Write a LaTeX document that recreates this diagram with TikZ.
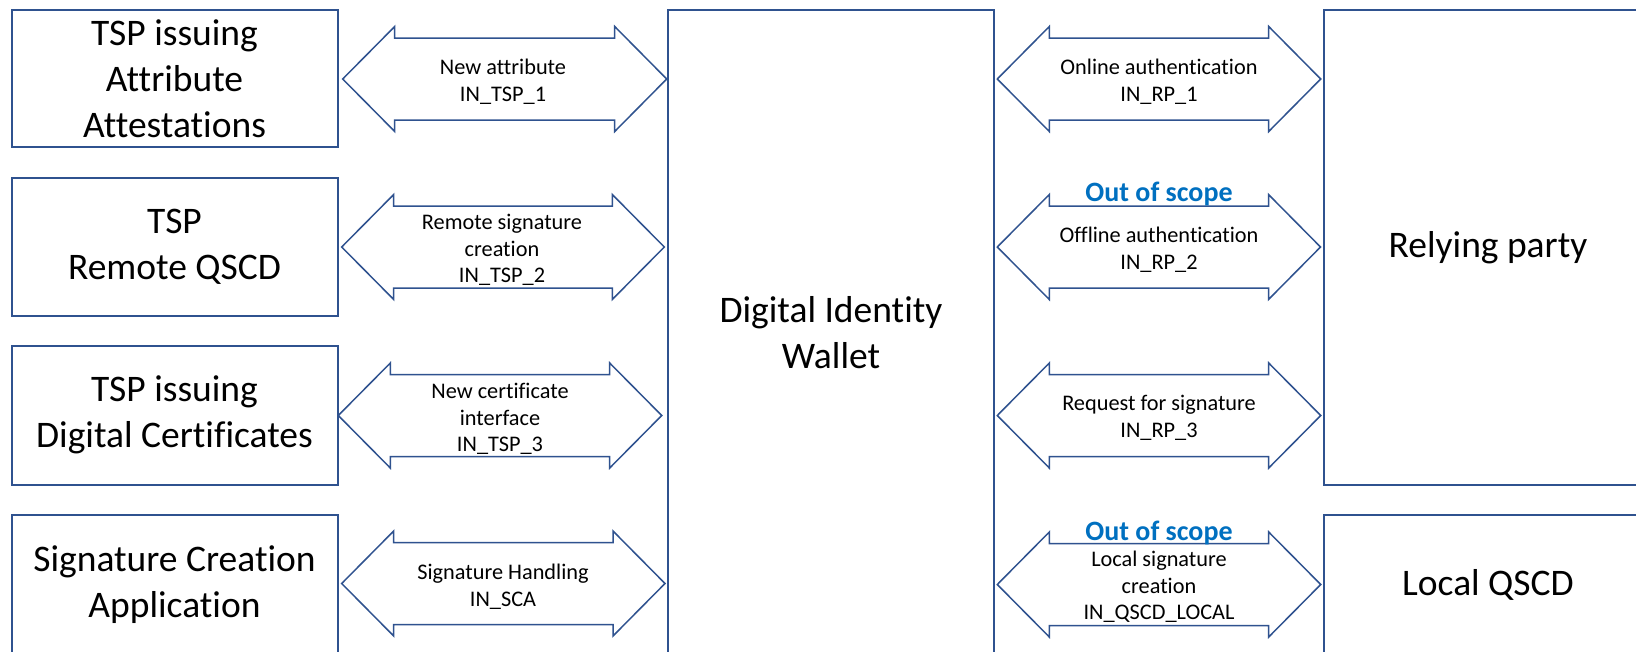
\documentclass[tikz,border=0pt]{standalone}
\usepackage{fontspec}
\setmainfont{Carlito}[Ligatures=NoCommon]
\definecolor{edge}{RGB}{47,82,143}
\definecolor{oos}{RGB}{0,112,192}
\tikzset{
  box/.style={draw=edge, line width=2pt, inner sep=0pt, align=center,
    font=\fontsize{37.5}{46}\selectfont},
  lbl/.style={align=center, inner sep=0pt, font=\fontsize{22.3}{26.6}\selectfont},
  oostxt/.style={text=oos, inner sep=0pt, font=\fontsize{28}{32}\selectfont\bfseries},
  arr/.style={draw=edge, line width=1.5pt, fill=white, line join=miter},
}
% double block arrow: #1 left tip x, #2 right tip x, #3 centre y
\newcommand\dblarr[3]{%
  \draw[arr] (#1,#3) -- (#1+52,#3-52.5) -- (#1+52,#3-41) -- (#2-52,#3-41)
    -- (#2-52,#3-52.5) -- (#2,#3) -- (#2-52,#3+52.5) -- (#2-52,#3+41)
    -- (#1+52,#3+41) -- (#1+52,#3+52.5) -- cycle;}
\begin{document}
\begin{tikzpicture}[x=1pt,y=-1pt]
\useasboundingbox (0,0) rectangle (1636,651);
\clip (0,0) rectangle (1636,651);
\fill[white] (0,0) rectangle (1636,651);

% boxes
\node[box, minimum width=326, minimum height=137] (b1) at (174.5,78.5)
  {TSP issuing\\Attribute\\Attestations};
\node[box, minimum width=326, minimum height=138] (b2) at (174.5,247)
  {TSP\\Remote QSCD};
\node[box, minimum width=326, minimum height=138.5] (b3) at (174.5,415.25)
  {TSP issuing\\Digital Certificates};
\node[box, minimum width=326, minimum height=140] (b4) at (174.5,585)
  {Signature Creation\\Application};
\node[box, minimum width=326, minimum height=645] (w) at (831,332.5)
  {Digital Identity\\Wallet};
\node[box, minimum width=328, minimum height=474.5] (rp) at (1488,247.25)
  {Relying party};
\node[box, minimum width=328, minimum height=140] (lq) at (1488,585)
  {Local QSCD};

% block arrows
\dblarr{342.7}{666.7}{79}
\dblarr{341.7}{664.3}{247}
\dblarr{338.3}{661.7}{415.5}
\dblarr{341.7}{665}{583.5}
\dblarr{997.3}{1320.7}{79}
\dblarr{997.3}{1320.5}{247}
\dblarr{997.3}{1320.7}{415.5}
\dblarr{997.3}{1320.7}{584.5}

% arrow labels
\node[lbl] (l1) at (503,82) {New attribute\\IN\_TSP\_1};
\node[lbl] (l2) at (502,250) {Remote signature\\creation\\IN\_TSP\_2};
\node[lbl] (l3) at (500,419) {New certificate\\interface\\IN\_TSP\_3};
\node[lbl] (l4) at (503,586.5) {Signature Handling\\IN\_SCA};
\node[lbl] (r1) at (1159,82) {Online authentication\\IN\_RP\_1};
\node[lbl] (r2) at (1159,249.5) {Offline authentication\\IN\_RP\_2};
\node[lbl] (r3) at (1159,418) {Request for signature\\IN\_RP\_3};
\node[lbl] (r4) at (1159,587) {Local signature\\creation\\IN\_QSCD\_LOCAL};
\node[oostxt] (o2) at (1159,193.5) {Out of scope};
\node[oostxt] (o4) at (1159,533) {Out of scope};
\end{tikzpicture}
\end{document}
